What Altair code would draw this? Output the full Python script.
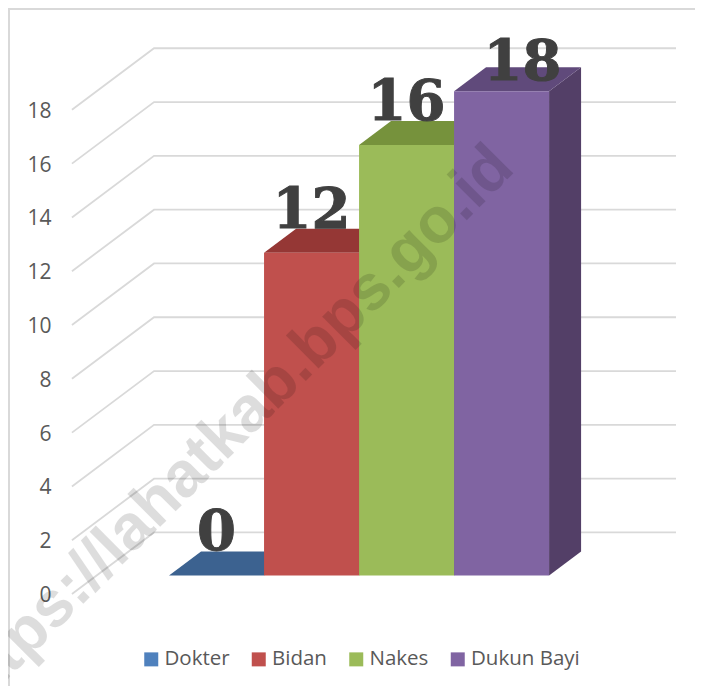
import altair as alt
import pandas as pd

# ---- data ----
categories = ["Dokter", "Bidan", "Nakes", "Dukun Bayi"]
values = [0, 12, 16, 18]
front_colors = ["#4f81bd", "#c0504d", "#9bbb59", "#8064a2"]
top_colors = ["#3c6290", "#953735", "#76923c", "#604a7b"]
side_colors = ["#335379", "#7f2f2d", "#637b32", "#533f67"]
ticks = [0, 2, 4, 6, 8, 10, 12, 14, 16, 18]

# ---- geometry in data units ----
DX, DY = 0.337, 0.892          # bar depth
XMIN, XMAX = -1.695, 5.536
YMIN, YMAX = -4.108, 21.097
WALL_FRONT_X, WALL_BACK_X, WALL_RIGHT_X = -1.022, -0.158, 5.336
WALL_FRONT_Y, WALL_BACK_Y = -0.688, 1.60

xs = alt.Scale(domain=[XMIN, XMAX], nice=False, zero=False)
ys = alt.Scale(domain=[YMIN, YMAX], nice=False, zero=False)
y_axis = alt.Axis(
    values=ticks, title=None, grid=False, domain=False, ticks=False,
    offset=-43, labelPadding=0, labelOffset=20,
    labelFont="Open Sans", labelFontSize=21, labelColor="#595959",
)

front = pd.DataFrame({
    "cat": categories, "v": values,
    "x0": [i for i in range(4)], "x1": [i + 1 for i in range(4)],
    "base": [0] * 4, "cx": [i + 0.5 for i in range(4)],
    "label": [str(v) for v in values],
})

grid_rows = []
for t in ticks:
    grid_rows += [
        {"t": t, "px": WALL_FRONT_X, "py": t + WALL_FRONT_Y},
        {"t": t, "px": WALL_BACK_X, "py": t + WALL_BACK_Y},
        {"t": t, "px": WALL_RIGHT_X, "py": t + WALL_BACK_Y},
    ]


def X(f):
    return alt.X(f, type="quantitative", scale=xs, axis=None)


def Y(f):
    return alt.Y(f, type="quantitative", scale=ys, axis=y_axis)


grid = alt.Chart(pd.DataFrame(grid_rows)).mark_line(
    color="#d9d9d9", strokeWidth=1.8, interpolate="linear"
).encode(x=X("px"), y=Y("py"), detail="t:N", order="px:Q")


def face(rows, color):
    return alt.Chart(pd.DataFrame(rows)).mark_area(
        orient="vertical", interpolate="linear", opacity=1, color=color
    ).encode(x=X("px"), y=Y("lo"), y2=alt.Y2("hi"))


side_layers, top_layers = [], []
for i, v in enumerate(values):
    side_layers.append(face([
        {"px": i + 1, "lo": 0, "hi": v},
        {"px": i + 1 + DX, "lo": DY, "hi": v + DY},
    ], side_colors[i]))
    top_layers.append(face([
        {"px": i, "lo": v, "hi": v},
        {"px": i + DX, "lo": v, "hi": v + DY},
        {"px": i + 1, "lo": v, "hi": v + DY},
        {"px": i + 1 + DX, "lo": v + DY, "hi": v + DY},
    ], top_colors[i]))

fronts = alt.Chart(front).mark_rect().encode(
    x=X("x0"), x2="x1:Q",
    y=Y("base"), y2="v:Q",
    color=alt.Color("cat:N", scale=alt.Scale(domain=categories, range=front_colors),
                    sort=categories,
                    legend=alt.Legend(
                        title=None, orient="none", direction="horizontal", columns=4,
                        legendX=133, legendY=641, symbolType="square", symbolSize=196,
                        symbolStrokeWidth=0, symbolOpacity=1, columnPadding=18.5,
                        labelOffset=3, labelFont="Open Sans", labelFontSize=20.5,
                        labelColor="#595959", labelLimit=200,
                    )),
)

label_style = dict(font="DejaVu Serif", fontWeight="bold", fontSize=56, color="#404040",
                   stroke="#404040", strokeWidth=1,
                   baseline="alphabetic", align="center")
lab_enc = dict(x=X("cx"), y=Y("v"), text="label:N")
labels = alt.Chart(front).transform_filter("datum.v < 18").mark_text(dy=-25, **label_style).encode(**lab_enc)
labels_top = alt.Chart(front).transform_filter("datum.v >= 18").mark_text(dx=21, dy=-11, **label_style).encode(**lab_enc)

border_l = alt.Chart(front).mark_rule(color="#d9d9d9", strokeWidth=2).encode(
    x=alt.value(1), y=alt.value(0), y2=alt.value(678))
border_t = alt.Chart(front).mark_rule(color="#d9d9d9", strokeWidth=2).encode(
    x=alt.value(0), x2=alt.value(687), y=alt.value(1))

watermark = alt.Chart(pd.DataFrame({"t": ["https://lahatkab.bps.go.id"]})).mark_text(
    font="Liberation Sans", fontWeight="bold", fontSize=64, angle=315,
    align="center", baseline="middle", color="#000000", opacity=0.13,
).encode(x=alt.value(221), y=alt.value(423), text="t:N")

chart = alt.layer(
    border_l, border_t, grid, *side_layers, *top_layers, fronts, labels, labels_top, watermark
).properties(
    width=687, height=678, padding=0, autosize="none",
).configure_view(stroke=None)

chart.save("out.html", embed_options={"renderer": "svg", "actions": False})
